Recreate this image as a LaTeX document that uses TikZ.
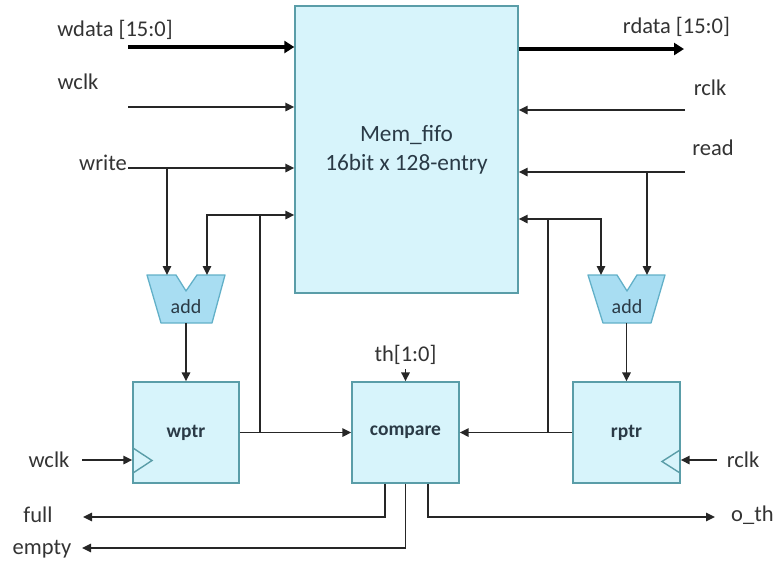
\documentclass[tikz,border=0pt]{standalone}
\usepackage{fontspec}
\setmainfont{Carlito}
\usetikzlibrary{arrows.meta}
\definecolor{boxfill}{HTML}{D7F4FB}
\definecolor{boxline}{HTML}{5A9DA8}
\definecolor{addfill}{HTML}{A8DDF2}
\definecolor{addline}{HTML}{62B0C8}
\definecolor{txt}{HTML}{333333}
\definecolor{boxtxt}{HTML}{2A3A46}
\begin{document}
\begin{tikzpicture}[x=1pt,y=-1pt,
  wire/.style={line width=1.6pt, draw=black!85},
  arr/.style={wire, -{Triangle[length=9pt,width=8.5pt]}},
  bus/.style={line width=4pt, draw=black, -{Triangle[length=10pt,width=12pt]}},
  blk/.style={draw=boxline, fill=boxfill, line width=1.4pt, inner sep=0pt, text=boxtxt},
  lbl/.style={text=txt, font=\fontsize{22.5}{24}\selectfont, inner sep=0pt},
  blklbl/.style={text=boxtxt, font=\fontsize{19.5}{22}\selectfont\bfseries, inner sep=0pt},
  addlbl/.style={text=boxtxt, font=\fontsize{20}{22}\selectfont, inner sep=0pt},
  adder/.style={draw=addline, fill=addfill, line width=1.3pt, line join=round},
  clk/.style={draw=boxline, line width=1.4pt}]
\useasboundingbox (0,0) rectangle (780,566);

% main blocks
\node[blk, minimum width=223pt, minimum height=287pt, align=center,
      font=\fontsize{23.3}{29}\selectfont] (mem) at (406.5,149.5) {Mem\_fifo\\16bit x 128-entry};
\node[blk, minimum width=106pt, minimum height=101pt] (wptr) at (186,432.5) {};
\node[blklbl] (wptrl) at (wptr) {wptr};
\node[blk, minimum width=107pt, minimum height=101pt] (cmp) at (405.5,432.5) {};
\node[blklbl] (cmpl) at (cmp) {compare};
\node[blk, minimum width=107pt, minimum height=101pt] (rptr) at (626.5,432.5) {};
\node[blklbl] (rptrl) at (rptr) {rptr};

% clock triangles
\draw[clk] (133,448) -- (152,460.5) -- (133,473);
\draw[clk] (680,450) -- (662,461.5) -- (680,473);

% adders
\path[adder] (147,275) -- (176,275) -- (186,291) -- (197,275) -- (225,275) -- (212,323) -- (161,323) -- cycle;
\node[addlbl] (addL) at (186,307) {add};
\path[adder] (588,275) -- (617,275) -- (627,291) -- (637,275) -- (665,275) -- (651,323) -- (603,323) -- cycle;
\node[addlbl] (addR) at (627,307) {add};
\coordinate (addLa) at (167,275);
\coordinate (addLb) at (207,275);
\coordinate (addLo) at (186,323);
\coordinate (addRa) at (601,275);
\coordinate (addRb) at (647,275);
\coordinate (addRo) at (626.5,323);

% left labels and inputs
\node[lbl] (wdata) at (115,30) {wdata [15:0]};
\coordinate (wdataS) at (128,47);
\draw[bus] (wdataS) -- (wdataS -| mem.west);
\node[lbl] (wclkt) at (78,82) {wclk};
\coordinate (wclkS) at (128,107);
\draw[arr] (wclkS) -- (wclkS -| mem.west);
\node[lbl, anchor=east] (write) at (127,163) {write};
\coordinate (writeS) at (128,168);
\draw[arr] (writeS) -- (writeS -| mem.west);
\coordinate (writeJ) at (167,168);
\draw[arr] (writeJ) -- (addLa);

% right labels and inputs
\node[lbl] (rdata) at (676.5,27) {rdata [15:0]};
\coordinate (rdataE) at (684,49);
\draw[bus] (rdataE -| mem.east) -- (rdataE);
\node[lbl] (rclkt) at (710,88) {rclk};
\coordinate (rclkS) at (685,110);
\draw[arr] (rclkS) -- (rclkS -| mem.east);
\node[lbl] (read) at (713,148) {read};
\coordinate (readS) at (685,172);
\draw[arr] (readS) -- (readS -| mem.east);
\coordinate (readJ) at (647,172);
\draw[arr] (readJ) -- (addRb);

% adder outputs
\draw[arr] (addLo) -- (wptr.north);
\draw[arr] (addRo) -- (rptr.north);

% pointer feedback
\coordinate (jl) at (260,432.5);
\coordinate (jlt) at (260,215);
\draw[arr] (wptr) -- (cmp);
\draw[wire] (jl) -- (jlt);
\draw[arr] (jlt) -- (jlt -| mem.west);
\draw[arr] (jlt) -| (addLb);
\coordinate (jr) at (548,432.5);
\coordinate (jrt) at (548,219);
\draw[arr] (rptr) -- (cmp);
\draw[wire] (jr) -- (jrt);
\draw[arr] (jrt) -- (jrt -| mem.east);
\draw[arr] (jrt) -| (addRa);

% threshold
\node[lbl] (th) at (405.5,355) {th[1:0]};
\draw[arr, shorten <=4pt] (th.south) -- (cmp.north);

% clocks
\node[lbl] (wclkb) at (49,460) {wclk};
\coordinate (wclkbS) at (82,460);
\draw[arr] (wclkbS) -- (wclkbS -| wptr.west);
\node[lbl] (rclkb) at (743,460) {rclk};
\coordinate (rclkbS) at (717,460);
\draw[arr] (rclkbS) -- (rclkbS -| rptr.east);

% outputs
\node[lbl] (full) at (38,515) {full};
\coordinate (fullE) at (83,517);
\draw[arr] ([xshift=-20.5pt]cmp.south) |- (fullE);
\node[lbl] (empty) at (42,549) {empty};
\coordinate (emptyE) at (82,548);
\draw[arr] (cmp.south) |- (emptyE);
\node[lbl, anchor=west] (oth) at (731,515) {o\_th};
\coordinate (othE) at (715,517);
\draw[arr] ([xshift=22.5pt]cmp.south) |- (othE);
\end{tikzpicture}
\end{document}
